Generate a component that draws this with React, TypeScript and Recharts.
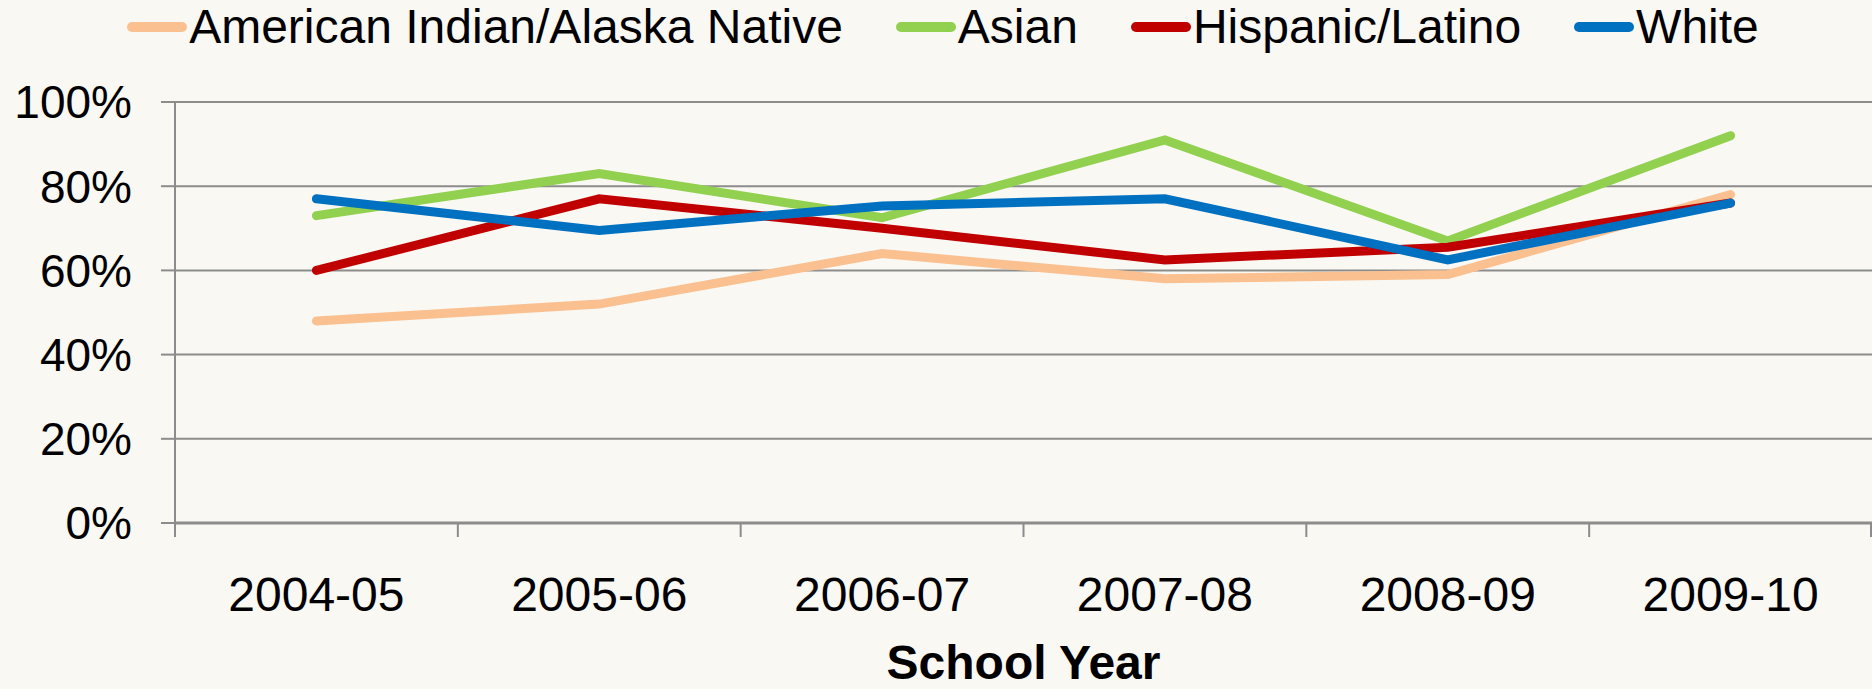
import { LineChart, Line, XAxis, YAxis, CartesianGrid, Legend } from 'recharts';

const years = ['2004-05', '2005-06', '2006-07', '2007-08', '2008-09', '2009-10'];
const americanIndian = [48, 52, 64, 58, 59, 78];
const asian = [73, 83, 72.5, 91, 67, 92];
const hispanic = [60, 77, 70, 62.5, 65.5, 76];
const white = [77, 69.5, 75.3, 77, 62.5, 76];
const yTicks = [0, 20, 40, 60, 80, 100];

const seriesNames = ['American Indian/Alaska Native', 'Asian', 'Hispanic/Latino', 'White'];
const seriesColors = ['#FAC090', '#92D050', '#C00000', '#0070C0'];
const seriesValues = [americanIndian, asian, hispanic, white];

const W = 1872;
const H = 689;
const LEFT = 175;
const BAND = (W - LEFT) / years.length;
const GRID = '#8C8C8C';
const FONT = 'Arial, "Liberation Sans", sans-serif';

const data = years.map((year, i) => {
  const row: Record<string, string | number> = { year };
  seriesNames.forEach((name, s) => {
    row[name] = seriesValues[s][i];
  });
  return row;
});

function YearTick(props: any) {
  const { x, y, payload, index } = props;
  return (
    <g>
      <line x1={x - BAND / 2} x2={x - BAND / 2} y1={y} y2={y + 14} stroke={GRID} strokeWidth={2} />
      {index === years.length - 1 && (
        <line x1={x + BAND / 2 - 1} x2={x + BAND / 2 - 1} y1={y} y2={y + 14} stroke={GRID} strokeWidth={2} />
      )}
      <text x={x} y={y + 88} textAnchor="middle" fontSize={48} fontFamily={FONT} fill="#000">
        {payload.value}
      </text>
    </g>
  );
}

function LegendRow() {
  return (
    <div
      style={{
        display: 'flex',
        justifyContent: 'center',
        alignItems: 'center',
        gap: 53,
        paddingTop: 3,
        paddingLeft: 14,
        fontFamily: FONT,
        fontSize: 48,
        lineHeight: '48px',
        color: '#000',
      }}
    >
      {seriesNames.map((name, i) => (
        <div key={name} style={{ display: 'flex', alignItems: 'center' }}>
          <span
            style={{
              display: 'inline-block',
              width: 60,
              height: 10,
              borderRadius: 5,
              background: seriesColors[i],
              marginRight: 2,
            }}
          />
          <span>{name}</span>
        </div>
      ))}
    </div>
  );
}

export default function App() {
  return (
    <div style={{ position: 'absolute', left: 0, top: 0, width: W, height: H, background: '#F9F8F3' }}>
      <LineChart width={W} height={H} data={data} margin={{ top: 102, right: 0, bottom: 0, left: 0 }}>
        <CartesianGrid horizontal vertical={false} stroke={GRID} strokeWidth={2} />
        <XAxis
          dataKey="year"
          height={166}
          interval={0}
          padding={{ left: BAND / 2, right: BAND / 2 }}
          tickSize={0}
          tickMargin={0}
          tickLine={false}
          axisLine={{ stroke: GRID, strokeWidth: 3 }}
          tick={<YearTick />}
          label={({ viewBox }: any) => (
            <text
              x={viewBox.x + viewBox.width / 2}
              y={viewBox.y + viewBox.height - 10}
              textAnchor="middle"
              fontSize={48}
              fontWeight="bold"
              fontFamily={FONT}
              fill="#000"
            >
              School Year
            </text>
          )}
        />
        <YAxis
          width={LEFT}
          domain={[0, 100]}
          ticks={yTicks}
          interval={0}
          tickSize={14}
          tickMargin={29}
          axisLine={{ stroke: GRID, strokeWidth: 2 }}
          tickLine={{ stroke: GRID, strokeWidth: 2 }}
          tick={{ fill: '#000', fontSize: 46, fontFamily: FONT }}
          tickFormatter={(v: number) => `${v}%`}
        />
        <Legend
          verticalAlign="middle"
          layout="horizontal"
          wrapperStyle={{ top: 0, left: 0, width: W, height: 60 }}
          content={() => <LegendRow />}
        />
        {seriesNames.map((name, i) => (
          <Line
            key={name}
            type="linear"
            dataKey={name}
            stroke={seriesColors[i]}
            strokeWidth={9}
            strokeLinecap="round"
            dot={false}
            activeDot={false}
            isAnimationActive={false}
          />
        ))}
      </LineChart>
    </div>
  );
}
